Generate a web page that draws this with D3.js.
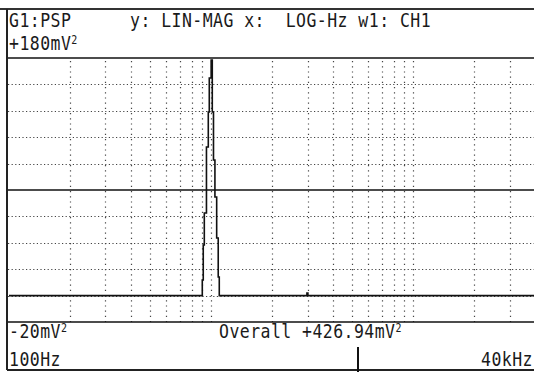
<!DOCTYPE html>
<html>
<head>
	<title>G1 PSP</title>
	<meta charset="utf-8">
	<script type="text/javascript" src="https://cdn.jsdelivr.net/npm/d3@7/dist/d3.min.js"></script>
	<style type="text/css">
	     body{
	     	margin:0;
	     	background:#fff;
	     }
	     .lcd{
	     	font-family:"DejaVu Sans Mono",monospace;
	     	font-size:16.5px;
	     	letter-spacing:0.45px;
	     	white-space:pre;
	     	fill:#1a1a1a;
	     }
	</style>
</head>
<body>
  <div id="chart"></div>
<script type="text/javascript">
    // spectrum values (Hz, mV^2)
    var freqs=[100,880,904,914,925,948,968,979,1000,1013,1027,1044,1065,1084,1097,2943,2977,3011,40000];
    var power=[0,0,11.8,38.3,62.6,112.6,139.1,164.8,178.5,139.1,102.7,74.7,43.6,14.1,0,0,2.0,0,0];
    var yGrid=[160,140,120,100,60,40,20,0];
    var ySolid=[180,80,-20];
    var xGrid=[200,300,400,500,600,700,800,900,1000,2000,3000,4000,5000,6000,7000,8000,9000,10000,20000,30000];

    var W=534,H=372;
    var svg=d3.select("#chart").append("svg")
        .attr("width",W)
        .attr("height",H);

    var x=d3.scaleLog().domain([100,40000]).range([9,535]);
    var y=d3.scaleLinear().domain([-20,180]).range([322,58]);

    // frame
    svg.append("line").attr("x1",0).attr("x2",W).attr("y1",9).attr("y2",9)
        .attr("stroke","#333").attr("stroke-width",2);
    svg.append("line").attr("x1",7).attr("x2",7).attr("y1",9).attr("y2",370)
        .attr("stroke","#222").attr("stroke-width",2);
    svg.append("line").attr("x1",7).attr("x2",W).attr("y1",370).attr("y2",370)
        .attr("stroke","#222").attr("stroke-width",2);

    // dotted grid
    svg.selectAll(".hg")
        .data(yGrid)
        .enter()
        .append("line")
        .attr("class","hg")
        .attr("x1",8).attr("x2",W)
        .attr("y1",function(d){ return Math.round(y(d))+0.5; })
        .attr("y2",function(d){ return Math.round(y(d))+0.5; })
        .attr("stroke","#444")
        .attr("stroke-width",1.2)
        .attr("stroke-dasharray","1.2,2.4");

    svg.selectAll(".vg")
        .data(xGrid)
        .enter()
        .append("line")
        .attr("class","vg")
        .attr("x1",function(d){ return Math.round(x(d))+0.5; })
        .attr("x2",function(d){ return Math.round(x(d))+0.5; })
        .attr("y1",y(180)+3).attr("y2",y(-20))
        .attr("stroke","#444")
        .attr("stroke-width",1.2)
        .attr("stroke-dasharray","1.2,4");

    svg.selectAll(".hs")
        .data(ySolid)
        .enter()
        .append("line")
        .attr("class","hs")
        .attr("x1",8).attr("x2",W)
        .attr("y1",function(d){ return y(d); })
        .attr("y2",function(d){ return y(d); })
        .attr("stroke","#111")
        .attr("stroke-width",1.6);

    // trace, drawn in steps like the screen does
    var line=d3.line()
        .curve(d3.curveStepAfter)
        .x(function(d,i){ return x(freqs[i]); })
        .y(function(d){ return y(d); });
    svg.append("path")
        .datum(power)
        .attr("d",line)
        .attr("fill","none")
        .attr("stroke","#111")
        .attr("stroke-width",1.6);

    // screen texts
    function lcdText(tx,ty,str,anchor){
        var g=svg.append("g").attr("transform","translate("+tx+","+ty+") scale(1,1.2)");
        var t=g.append("text").attr("class","lcd").attr("xml:space","preserve").attr("text-anchor",anchor||"start");
        t.append("tspan").text(str);
        return t;
    }
    function sq(t){
        t.append("tspan").attr("dy",-5).attr("font-size",10).text("2");
    }
    lcdText(9,26.5,"G1:PSP");
    lcdText(130,26.5,"y: LIN-MAG x:  LOG-Hz w1: CH1");
    sq(lcdText(9,50,"+180mV"));
    sq(lcdText(9,338,"-20mV"));
    sq(lcdText(219,338,"Overall +426.94mV"));
    lcdText(9,366,"100Hz");
    lcdText(533,366,"40kHz","end");

    // cursor
    svg.append("line").attr("x1",358).attr("x2",358).attr("y1",347).attr("y2",H)
        .attr("stroke","#111").attr("stroke-width",2);
</script>
</body>
</html>
